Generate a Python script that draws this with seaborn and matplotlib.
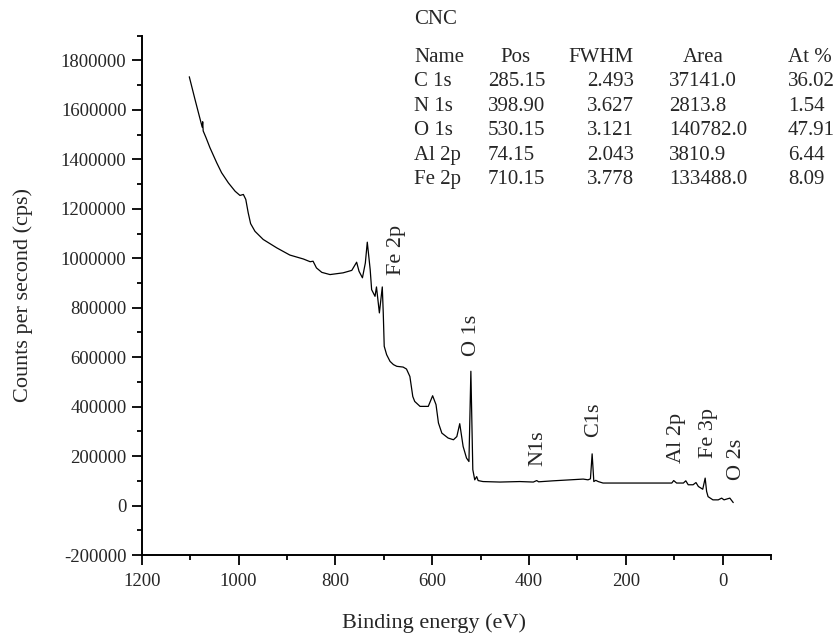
#%%
# Imports
import numpy as np
import pandas as pd
import matplotlib
matplotlib.use('Agg')
import matplotlib.pyplot as plt
from matplotlib.ticker import MultipleLocator
import seaborn as sns

#%%
# Dados lidos do espectro (energia de ligação em eV, contagens em cps)
energia = [1101.7, 1090, 1081, 1075, 1074, 1073, 1067, 1059, 1045, 1035, 1021,
           1007, 997, 990, 985, 980, 975, 966, 949, 921, 894, 866, 852, 846,
           839, 828, 811, 784, 766, 756, 751, 744, 738, 734, 728, 725, 718,
           715, 709, 703, 701, 699, 694, 687, 680, 673, 660, 653, 646, 640,
           636, 625, 608, 599, 592, 587, 580, 567, 556, 549, 543, 536, 529,
           524, 520, 516, 512, 508, 505, 495, 460, 419, 391, 384, 380, 350,
           288, 278, 273, 269.5, 266, 262, 257, 247, 212, 143, 105, 101, 95,
           81, 76, 71, 61, 55, 50, 41, 36, 33, 30, 20, 9, 2, -3, -8, -15, -22]
contagens = [1734000, 1643000, 1575000, 1530000, 1552000, 1515000, 1487000,
             1447000, 1386000, 1346000, 1305000, 1271000, 1254000, 1258000,
             1238000, 1184000, 1140000, 1109000, 1076000, 1042000, 1013000,
             997000, 986000, 988000, 961000, 943000, 934000, 941000, 951000,
             984000, 947000, 921000, 981000, 1065000, 954000, 873000, 846000,
             884000, 779000, 884000, 779000, 644000, 610000, 583000, 570000,
             563000, 560000, 552000, 522000, 441000, 421000, 401000, 401000,
             444000, 408000, 334000, 293000, 273000, 266000, 279000, 331000,
             239000, 192000, 178000, 543000, 145000, 104000, 117000, 101000,
             97000, 95000, 97000, 95000, 101000, 96000, 100000, 107000, 104000,
             108000, 209000, 97000, 102000, 97000, 91000, 91000, 91000, 91000,
             101000, 91000, 91000, 100000, 84000, 84000, 93000, 77000, 66000,
             111000, 57000, 36000, 23000, 23000, 30000, 23000, 26000, 30000,
             12000]

# Rótulos dos picos: texto, energia, contagem na base do texto
picos = ['Fe 2p', 'O 1s', 'N1s', 'C1s', 'Al 2p', 'Fe 3p', 'O 2s']
picos_x = [673, 518, 381, 267, 95, 30, -29]
picos_y = [933000, 603000, 158000, 279000, 172000, 192000, 104000]

# Tabela de quantificação
tabela_cab = ['Name', 'Pos', 'FWHM', 'Area', 'At %']
tabela_nome = ['C 1s', 'N 1s', 'O 1s', 'Al 2p', 'Fe 2p']
tabela_pos = ['285.15', '398.90', '530.15', '74.15', '710.15']
tabela_fwhm = ['2.493', '3.627', '3.121', '2.043', '3.778']
tabela_area = ['37141.0', '2813.8', '140782.0', '3810.9', '133488.0']
tabela_at = ['36.02', '1.54', '47.91', '6.44', '8.09']

df = pd.DataFrame({'energia': energia, 'contagens': contagens})

#%%
# Gráfico
sns.set_style('ticks')
plt.rcParams['font.family'] = ['Liberation Serif', 'DejaVu Serif']
plt.rcParams['axes.unicode_minus'] = False

W, H = 835, 636
fig = plt.figure(figsize=(W / 100, H / 100), dpi=100)
ax = fig.add_axes([141.7 / W, 1 - 555 / H, (771 - 141.7) / W, (555 - 35.7) / H])

sns.lineplot(data=df, x='energia', y='contagens', sort=False, estimator=None,
             color='black', lw=0.9, ax=ax)

ax.set_xlim(1200, -100)
ax.set_ylim(-200000, 1900000)
ax.xaxis.set_major_locator(MultipleLocator(200))
ax.xaxis.set_minor_locator(MultipleLocator(100))
ax.yaxis.set_major_locator(MultipleLocator(200000))
ax.yaxis.set_minor_locator(MultipleLocator(100000))
ax.ticklabel_format(axis='y', style='plain', useOffset=False)
ax.tick_params(which='major', direction='out', length=7, width=1.3,
               labelsize=13.5, color='black', pad=4)
ax.tick_params(which='minor', direction='out', length=3.6, width=1.3,
               color='black')
ax.tick_params(axis='x', which='major', pad=6)
for s in ['top', 'right']:
    ax.spines[s].set_visible(False)
for s in ['left', 'bottom']:
    ax.spines[s].set_linewidth(1.4)
    ax.spines[s].set_color('black')

ax.set_xlabel('Binding energy (eV)', fontsize=16)
ax.set_ylabel('Counts per second (cps)', fontsize=16)
ax.xaxis.set_label_coords(0.4637, -0.112)
ax.yaxis.set_label_coords(-0.173, 0.5)

for txt, px, py in zip(picos, picos_x, picos_y):
    ax.text(px, py, txt, rotation=90, ha='center', va='bottom', fontsize=16)

# Tabela (posições em pixels da figura)
def fx(p):
    return p / W

def fy(p):
    return 1 - p / H

fs = 15
fig.text(fx(414), fy(20), 'CNC', fontsize=fs, va='center')
cab_x = [414, 500, 568, 683, 788]
for t, xx in zip(tabela_cab, cab_x):
    fig.text(fx(xx), fy(57), t, fontsize=fs, va='center')
col_x = [414, 488, 587, 669, 788]
for i in range(len(tabela_nome)):
    yy = fy(82 + 24.4 * i)
    valores = [tabela_nome[i], tabela_pos[i], tabela_fwhm[i], tabela_area[i], tabela_at[i]]
    for t, xx in zip(valores, col_x):
        fig.text(fx(xx), yy, t, fontsize=fs, va='center')

fig.savefig('out.png', dpi=100)
